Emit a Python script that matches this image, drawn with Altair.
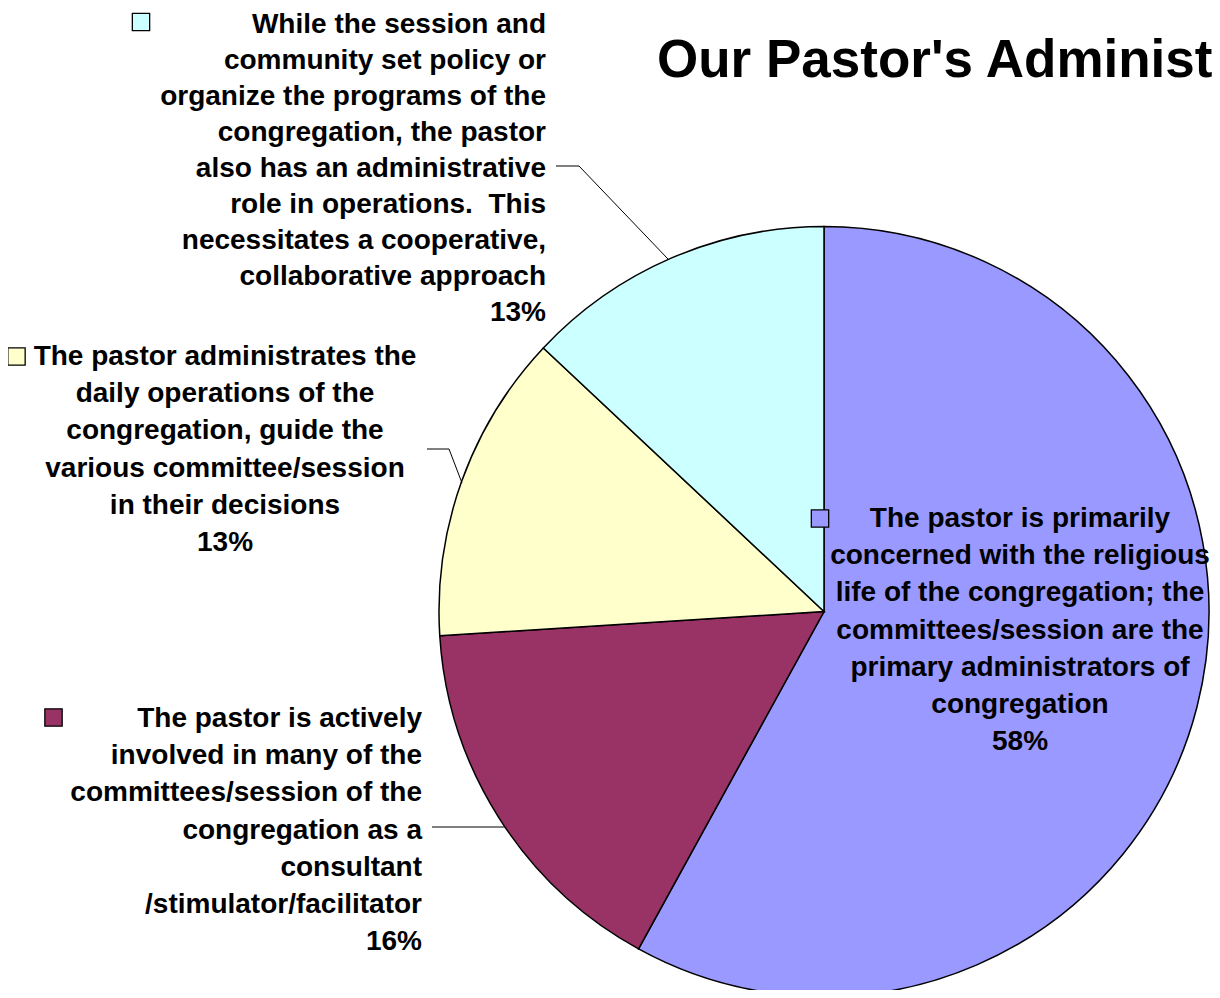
import altair as alt
import pandas as pd

# ---- data ----
categories = ["religious", "consultant", "daily", "cooperative"]
label_lines = [
    ["The pastor is primarily", "concerned with the religious",
     "life of the congregation; the", "committees/session are the",
     "primary administrators of", "congregation"],
    ["The pastor is actively", "involved in many of the",
     "committees/session of the", "congregation as a", "consultant",
     "/stimulator/facilitator"],
    ["The pastor administrates the", "daily operations of the",
     "congregation, guide the", "various committee/session",
     "in their decisions"],
    ["While the session and", "community set policy or",
     "organize the programs of the", "congregation, the pastor",
     "also has an administrative", "role in operations.\u00a0 This",
     "necessitates a cooperative,", "collaborative approach"],
]
percents = [58, 16, 13, 13]
colors = ["#9999FF", "#993366", "#FFFFCC", "#CCFFFF"]
title_text = "Our Pastor's Administrative Role"

df = pd.DataFrame({
    "cat": categories,
    "idx": list(range(len(categories))),
    "value": percents,
    "label": ["\n".join(l) + "\n" + f"{p}%" for l, p in zip(label_lines, percents)],
})

FONT = "Liberation Sans"
color_scale = alt.Scale(domain=categories, range=colors)
base = alt.Chart(df)

CX, CY, R = 816, 603.5, 385

pie = base.mark_arc(radius=R, stroke="black", strokeWidth=1.5).encode(
    theta=alt.Theta("value:Q", stack=True),
    color=alt.Color("cat:N", scale=color_scale, legend=None),
    order=alt.Order("idx:Q"),
    x=alt.value(CX),
    y=alt.value(CY),
)

# label placement: (align, x, first-baseline y, line height, square x, square y)
placement = {
    "religious": ("center", 1012, 519, 37.2, 812, 510.5),
    "consultant": ("right", 414, 719, 37.2, 45.5, 709.5),
    "daily": ("center", 217, 357, 37.2, 8.5, 348.5),
    "cooperative": ("right", 538, 25, 36.0, 133, 14),
}

layers = [pie]
for cat, (align, tx, ty, lh, sx, sy) in placement.items():
    f = base.transform_filter(alt.datum.cat == cat)
    layers.append(
        f.mark_text(align=align, baseline="alphabetic", font=FONT, fontSize=28,
                    fontWeight="bold", lineHeight=lh, lineBreak="\n",
                    color="black").encode(text="label:N", x=alt.value(tx), y=alt.value(ty))
    )
    layers.append(
        f.mark_point(shape="square", filled=True, size=300, stroke="black",
                     strokeWidth=1.3, opacity=1).encode(
            color=alt.Color("cat:N", scale=color_scale, legend=None),
            x=alt.value(sx), y=alt.value(sy))
    )

# leader lines
leaders = [
    ("cooperative", 548, 158, 571, 158),
    ("cooperative", 571, 158, 660, 251),
    ("daily", 419, 441, 441, 441),
    ("daily", 441, 441, 454, 475),
    ("consultant", 424, 819, 497, 819),
]
for cat, x1, y1, x2, y2 in leaders:
    layers.append(
        base.transform_filter(alt.datum.cat == cat).mark_rule(color="black", strokeWidth=1).encode(
            x=alt.value(x1), y=alt.value(y1), x2=alt.value(x2), y2=alt.value(y2))
    )

title = base.transform_filter(alt.datum.idx == 0).mark_text(
    align="left", baseline="alphabetic", font=FONT, fontSize=53,
    fontWeight="bold", color="black", text=title_text
).encode(x=alt.value(649), y=alt.value(69))
layers.append(title)

chart = alt.layer(*layers).properties(
    width=1204, height=982, padding=0,
    autosize=alt.AutoSizeParams(type="none"),
).configure_view(stroke=None)

chart.save("out.html", embed_options={"renderer": "svg", "actions": False})
